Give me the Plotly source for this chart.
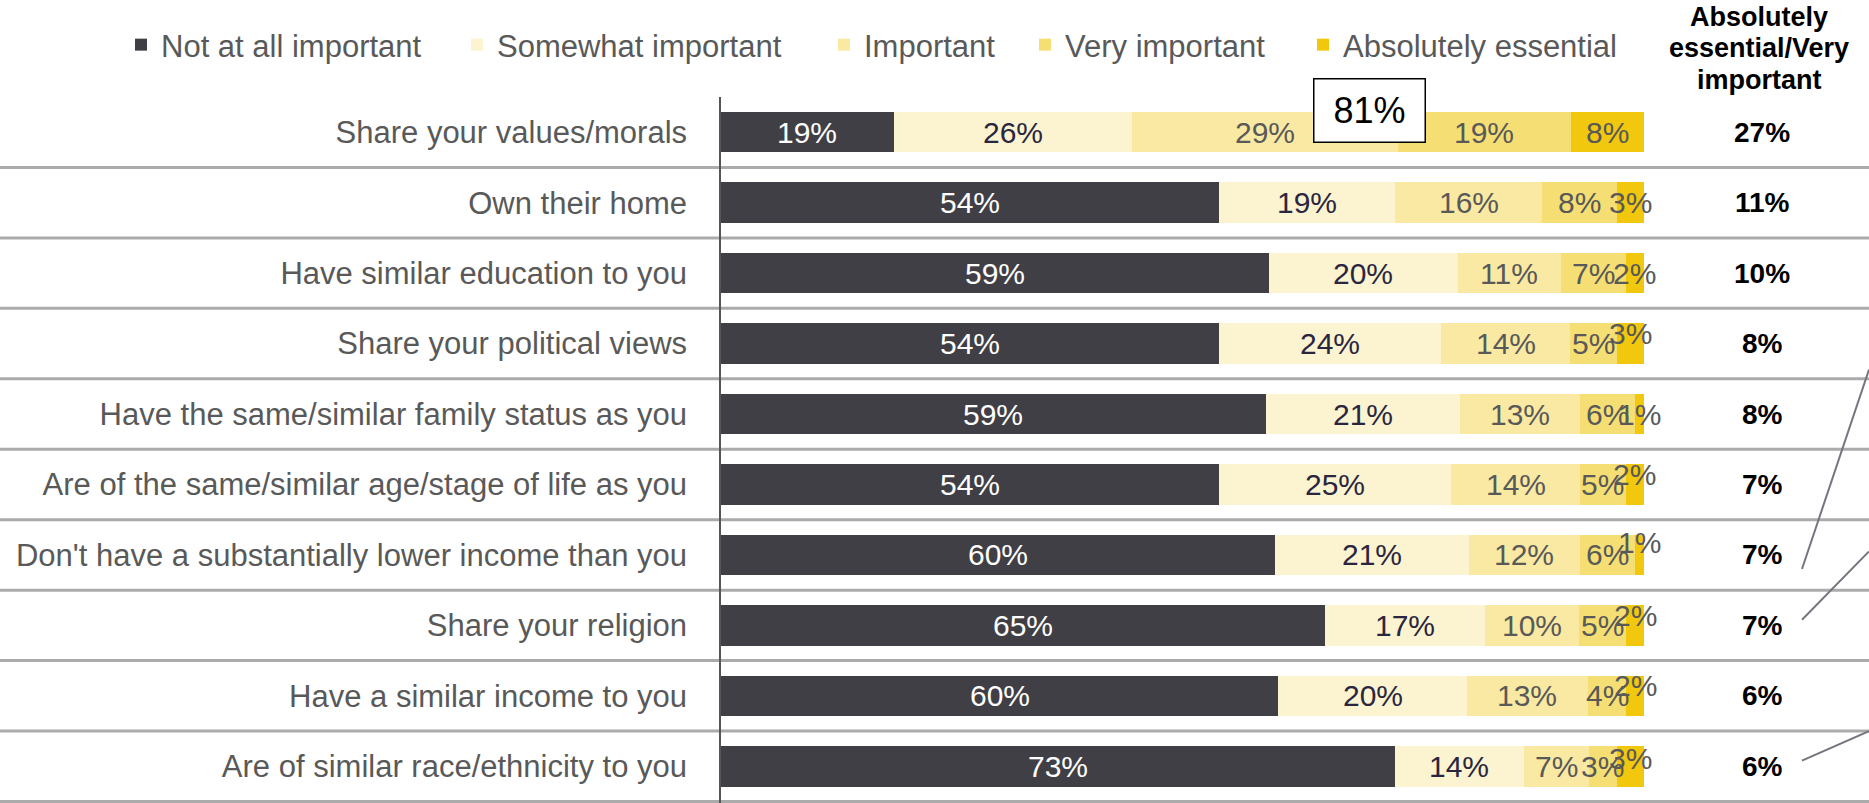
import plotly.graph_objects as go

categories = [
    "Share your values/morals",
    "Own their home",
    "Have similar education to you",
    "Share your political views",
    "Have the same/similar family status as you",
    "Are of the same/similar age/stage of life as you",
    "Don't have a substantially lower income than you",
    "Share your religion",
    "Have a similar income to you",
    "Are of similar race/ethnicity to you",
]

not_at_all = [18.7, 54.0, 59.4, 54.0, 59.0, 54.0, 60.0, 65.4, 60.4, 73.0]
somewhat = [25.8, 19.0, 20.4, 24.0, 21.1, 25.1, 21.0, 17.4, 20.4, 14.0]
important = [28.8, 16.0, 11.2, 14.0, 13.0, 14.0, 12.1, 10.2, 13.1, 7.0]
very = [18.8, 8.1, 7.0, 5.1, 5.9, 4.9, 5.9, 5.1, 4.2, 3.1]
essential = [7.9, 2.9, 2.0, 2.9, 1.0, 2.0, 1.0, 1.9, 1.9, 2.9]

# right-hand column "Absolutely essential/Very important"
top_two = [27, 11, 10, 8, 8, 7, 7, 7, 6, 6]
top_two_header = ["Absolutely", "essential/Very", "important"]

series_names = ["Not at all important", "Somewhat important", "Important",
                "Very important", "Absolutely essential"]
series_values = [not_at_all, somewhat, important, very, essential]

colors = ["#403f46", "#fcf4d0", "#f9e9a2", "#f5df74", "#f2c80f"]
label_colors = ["#ffffff", "#2b2640", "#595959", "#595959", "#595959"]
# small "essential" labels that Excel nudged upward (px)
essential_lift = [0, 0, 0, 10, 0, 10, 12, 10, 10, 8]

W, H = 1869, 803
TOP = 97
FONT = "Liberation Sans, Arial, sans-serif"
x_left, x_right = 721 / W, 1644 / W
legend_left = [121, 457, 824, 1025, 1303]

fig = go.Figure()

for i, (name, vals) in enumerate(zip(series_names, series_values)):
    fig.add_trace(go.Bar(name=name,
                         y=categories,
                         x=vals,
                         orientation="h",
                         marker_color=colors[i],
                         marker_line_width=0,
                         legend="legend" if i == 0 else f"legend{i + 1}",
                         hoverinfo="skip"))

# segment labels
cum = [0.0] * len(categories)
for i, vals in enumerate(series_values):
    for r, v in enumerate(vals):
        lift = essential_lift[r] if i == 4 else 0
        fig.add_annotation(x=cum[r] + v / 2, y=categories[r],
                           xanchor="center", text=f"{v:.0f}%", showarrow=False,
                           yshift=lift,
                           font=dict(size=30, color=label_colors[i], family=FONT))
        cum[r] += v

# right-hand column values
for r, v in enumerate(top_two):
    fig.add_annotation(x=1762 / W, xref="paper", xanchor="center", y=categories[r],
                       text=f"<b>{v}%</b>", showarrow=False,
                       font=dict(size=28, color="#000000", family=FONT))

for line, lift in zip(top_two_header, [80, 49, 17]):
    fig.add_annotation(x=1759 / W, xref="paper", xanchor="center",
                       y=1.0, yref="paper", yanchor="middle", yshift=lift,
                       text=f"<b>{line}</b>", showarrow=False,
                       font=dict(size=27, color="#000000", family=FONT))

# callout box with share that rate the first item at least somewhat important
callout = 100 - not_at_all[0]
fig.add_annotation(x=1369 / W, xref="paper", xanchor="center",
                   y=categories[0], yshift=22,
                   text=f"{callout:.0f}%", showarrow=False,
                   width=108, height=60, bgcolor="#ffffff",
                   bordercolor="#000000", borderwidth=1.5,
                   font=dict(size=36, color="#000000", family=FONT))

# row separators
for r in range(len(categories)):
    fig.add_shape(type="line", xref="paper", yref="y",
                  x0=0, x1=1, y0=r + 0.5, y1=r + 0.5,
                  line=dict(color="#ababab", width=3), layer="below")

# leader lines running off the right edge
for (y0, y1) in [(6.2, 3.37), (6.92, 5.95), (8.92, 8.5)]:
    fig.add_shape(type="line", xref="paper", yref="y",
                  x0=1802 / W, x1=1, y0=y0, y1=y1,
                  line=dict(color="#75757f", width=2))

legend_style = dict(orientation="h", xanchor="left", yanchor="middle",
                    y=1 + (TOP - 45) / (H - TOP), bgcolor="rgba(0,0,0,0)",
                    font=dict(size=31, color="#595959", family=FONT),
                    itemwidth=30)
layout_legends = {}
for i, lx in enumerate(legend_left):
    key = "legend" if i == 0 else f"legend{i + 1}"
    layout_legends[key] = dict(legend_style, x=lx / W)

fig.update_layout(barmode="stack",
                  bargap=0.425,
                  width=W, height=H,
                  margin=dict(l=0, r=0, t=TOP, b=0, autoexpand=False),
                  plot_bgcolor="#ffffff",
                  paper_bgcolor="#ffffff",
                  font=dict(family=FONT),
                  showlegend=True,
                  **layout_legends)

fig.update_xaxes(domain=[x_left, x_right], range=[0, 100],
                 showgrid=False, zeroline=False, showticklabels=False,
                 showline=False)
fig.update_yaxes(categoryorder="array", categoryarray=categories,
                 autorange="reversed", automargin=False,
                 showgrid=False, zeroline=False,
                 showline=True, linecolor="#555555", linewidth=1.5,
                 ticks="", ticklabelstandoff=26,
                 tickfont=dict(size=31, color="#595959", family=FONT))

# drop the browser's default body margin so the figure sits at the page corner
fig.write_html("out.html", config={"displayModeBar": False},
               post_script="document.body.style.margin = '0';")
